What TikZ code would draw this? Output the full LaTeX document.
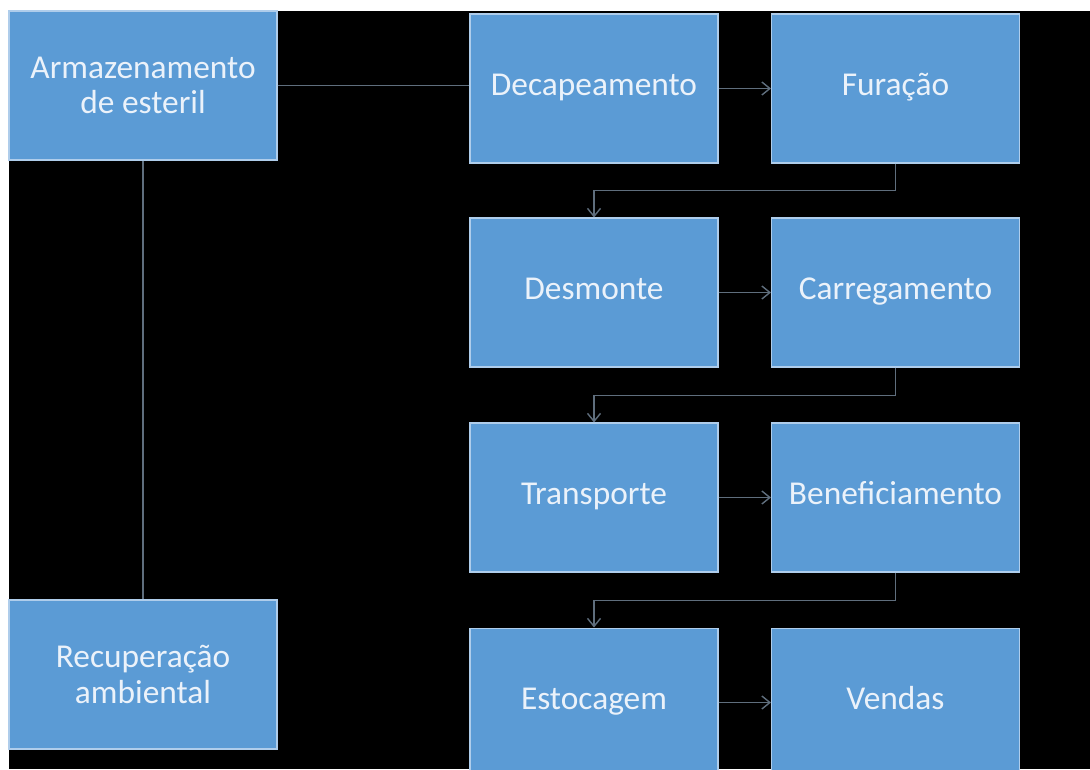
\documentclass[tikz,border=0pt]{standalone}
\usepackage{fontspec}
\setmainfont{Carlito}
\usepackage{tikz}
\usetikzlibrary{arrows.meta, calc}
\definecolor{azulcaixa}{RGB}{91,155,213}
\definecolor{bordacaixa}{RGB}{175,205,235}
\definecolor{cinzaseta}{RGB}{95,110,125}
\definecolor{textoclaro}{RGB}{235,242,250}

\begin{document}
\begin{tikzpicture}[x=0.02cm, y=-0.02cm,
  every node/.style={font=\fontsize{19}{20}\selectfont, align=center, text=textoclaro},
  caixabase/.style={draw=bordacaixa, fill=azulcaixa, line width=0.6pt, minimum width=4.96cm, minimum height=2.98cm, inner sep=0pt},
  caixa/.style={caixabase, text height=2.2ex, text depth=0.6ex},
  caixalarga/.style={caixabase, minimum width=5.36cm},
  linha/.style={draw=cinzaseta, line width=0.8pt},
  seta/.style={linha, -{Straight Barb[length=1.6mm, width=2.6mm]}}]
\clip (0,0) rectangle (1090,769);
\useasboundingbox (0,0) rectangle (1090,769);
\fill[white] (0,0) rectangle (1090,769);
\fill[black] (9,11) rectangle (1090,769);

% coluna da esquerda
\node[caixalarga] (arm) at (143,85.5) {Armazenamento\\de esteril};
\node[caixalarga] (rec) at (143,674.5) {Recuperação\\ambiental};

% etapas da lavra
\node[caixa] (dec) at (594,88.5) {Decapeamento};
\node[caixa] (fur) at (895.5,88.5) {Furação};
\node[caixa] (desm) at (594,292.5) {Desmonte};
\node[caixa] (carr) at (895.5,292.5) {Carregamento};
\node[caixa] (transp) at (594,497.5) {Transporte};
\node[caixa] (benef) at (895.5,497.5) {Beneficiamento};
\node[caixa] (estoc) at (594,702.5) {Estocagem};
\node[caixa] (vend) at (895.5,702.5) {Vendas};

% ligacoes
\draw[linha] (arm.east) -- (arm.east -| dec.west);
\draw[linha] (arm.south) -- (rec.north);
\draw[seta] (dec) -- (fur);
\draw[seta] (desm) -- (carr);
\draw[seta] (transp) -- (benef);
\draw[seta] (estoc) -- (vend);
\draw[seta] (fur.south) -- ++(0,27) -| (desm.north);
\draw[seta] (carr.south) -- ++(0,28) -| (transp.north);
\draw[seta] (benef.south) -- ++(0,28) -| (estoc.north);
\end{tikzpicture}
\end{document}
